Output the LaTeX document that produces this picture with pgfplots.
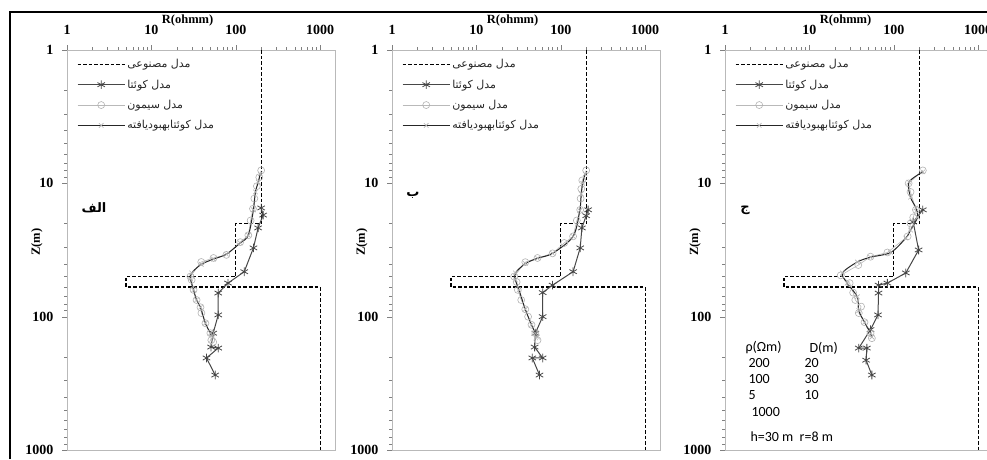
\documentclass[border=0pt]{standalone}
\usepackage{fontspec}
\setmainfont{Liberation Serif}
\newfontfamily\arfont[Script=Arabic]{DejaVu Sans}
\newfontfamily\calfont{Carlito}
\usepackage{pgfplots}
\usepackage{pgfplotstable}
\pgfplotsset{compat=1.18}
\TeXXeTstate=1
\newcommand{\artxt}[1]{\hbox{\arfont\beginR #1\endR}}

\pgfplotstableread{
R z
200 1
200 20
100 20
100 50
5 50
5 60
1000 60
1000 1000
}\tmodel

\pgfplotstableread{
R z
200 15.3
211 17.3
184 21.6
162 30.5
126 46
81 56
62 66.5
62 97
54 133
51 169
62 172
45 204
57 274
}\tkA
\pgfplotstableread{
R z
200 8
190 9
178 10.5
166 13
160 15.5
150 19
141 24.5
113 27.6
77.5 34.4
54.5 36.3
39 38.9
29 50
30 53
31.6 63
34.3 75
38.2 85
39.2 94
43.7 112
50 133
51.3 150
54 155
}\tsA
\pgfplotstableread{
R z
195 8.5
185 9.8
171 11.6
162 15.8
141 24.5
113 28
77.5 34
54.5 37
39 40.5
30 47
29 52
31.6 63
34.3 75
38.2 85
43.7 112
50 133
54 142
}\tiA

\pgfplotstableread{
R z
211 15.8
200 17.5
178 21.6
170 30.5
140 46
80 58
61 66
61 100
50 133
49 169
61 204
46 204
56 274
}\tkB
\pgfplotstableread{
R z
200 8
180 9.5
175 11
172 13
170 15.8
155 19
140 25
110 28
80 33.5
53 36.3
38 39
28 50
30 55
31 63
34 75
38 88
41 100
45 115
50 133
53 150
}\tsB
\pgfplotstableread{
R z
195 8.5
182 10
175 12
168 16
140 25
80 33.5
53 36.5
38 40
29 47
29 53
32 63
38 88
45 115
50 133
53 142
}\tiB

\pgfplotstableread{
R z
221 15.8
170 19.5
197 31.6
139 47
84 56
66 58
66 66.5
65 97
53 125
38.5 172
48 172
47 212
55 274
}\tkC
\pgfplotstableread{
R z
221 8
150 10
158 11.6
183 15.8
170 18
158 20
146 25
84 33
53 35.5
38 41
23.5 49
30 56
33 66
35 75
41 84
38.5 94
45 110
53 133
55 145
}\tsC
\pgfplotstableread{
R z
221 8.2
151 9.8
158 12.7
183 15.3
192 17.9
158 22.4
139 25.7
92 33
53 35.8
37 38.9
24.7 47
28 56
37 71
38.5 90
45 110
53 133
55 142
}\tiC

\pgfplotsset{legend image code/.code={\draw[mark repeat=2,mark phase=2,#1] plot coordinates {(0pt,0pt) (23.5pt,0pt) (47pt,0pt)};}}
\pgfplotsset{
  every axis/.append style={
    scale only axis, width=268pt, height=400pt,
    xmin=1, xmax=1500, ymin=1, ymax=1000,
    xtick={1,10,100,1000},
    xticklabels={\textbf{1},\textbf{10},\textbf{100},\textbf{1000}},
    ytick={1,10,100,1000},
    yticklabels={\textbf{1},\textbf{10},\textbf{100},\textbf{1000}},
    minor xtick={2,3,4,5,6,7,8,9,20,30,40,50,60,70,80,90,200,300,400,500,600,700,800,900},
    minor ytick={2,3,4,5,6,7,8,9,20,30,40,50,60,70,80,90,200,300,400,500,600,700,800,900},
    tick align=outside,
    major tick length=5pt, minor tick length=3pt,
    axis line style={draw=gray!55, line width=0.8pt},
    ticklabel style={font=\fontsize{14}{16}\selectfont},
    xticklabel style={yshift=7pt},
    yticklabel style={xshift=-5pt},
    xlabel style={at={(axis description cs:0.45,1.075)},anchor=center,font=\fontsize{12.5}{14}\selectfont},
    ylabel style={at={(axis description cs:-0.112,0.52)},anchor=center,font=\fontsize{12.5}{14}\selectfont},
    legend cell align=left,
    legend style={at={(axis description cs:0.037,0.982)},anchor=north west,draw=none,fill=none,
      font=\fontsize{11}{13}\selectfont,row sep=6.5pt,inner sep=0pt,text=black!85},
  },
  modelst/.style={black, line width=1.2pt, dash pattern=on 3.5pt off 2pt},
  kst/.style={color=black!72, line width=1pt, mark=asterisk, mark size=4.3pt, mark options={solid,line width=0.8pt}},
  sst/.style={color=gray!55, line width=0.6pt, mark=o, mark size=3.5pt, mark options={solid,draw=gray!60,fill=white,fill opacity=0,line width=0.6pt}},
  ist/.style={color=black!85, line width=1pt, smooth, mark=x, mark size=3.2pt, mark options={solid,draw=gray!60,line width=0.6pt}},
}

\begin{document}
\begin{tikzpicture}[x=1pt,y=1pt]
\useasboundingbox (0,0) rectangle (987,459);

\begin{loglogaxis}[y dir=reverse, xtick pos=right, xticklabel pos=right, ytick pos=left,
  xlabel={\textbf{R(ohmm)}}, ylabel={\textbf{Z(m)}},
  at={(67pt,9pt)}, anchor=south west]
\addplot[modelst] table[x=R,y=z]{\tmodel};
\addlegendentry{\artxt{مدل مصنوعی}}
\addplot[kst] table[x=R,y=z]{\tkA};
\addlegendentry{\artxt{مدل کوئتا}}
\addplot[sst] table[x=R,y=z]{\tsA};
\addlegendentry{\artxt{مدل سیمون}}
\addplot[ist] table[x=R,y=z]{\tiA};
\addlegendentry{\artxt{مدل کوئتابهبودیافته}}
\end{loglogaxis}

\begin{loglogaxis}[y dir=reverse, xtick pos=right, xticklabel pos=right, ytick pos=left,
  xlabel={\textbf{R(ohmm)}}, ylabel={\textbf{Z(m)}},
  at={(392pt,9pt)}, anchor=south west]
\addplot[modelst] table[x=R,y=z]{\tmodel};
\addlegendentry{\artxt{مدل مصنوعی}}
\addplot[kst] table[x=R,y=z]{\tkB};
\addlegendentry{\artxt{مدل کوئتا}}
\addplot[sst] table[x=R,y=z]{\tsB};
\addlegendentry{\artxt{مدل سیمون}}
\addplot[ist] table[x=R,y=z]{\tiB};
\addlegendentry{\artxt{مدل کوئتابهبودیافته}}
\end{loglogaxis}

\begin{loglogaxis}[y dir=reverse, xtick pos=right, xticklabel pos=right, ytick pos=left,
  xlabel={\textbf{R(ohmm)}}, ylabel={\textbf{Z(m)}},
  at={(725pt,9pt)}, anchor=south west]
\addplot[modelst] table[x=R,y=z]{\tmodel};
\addlegendentry{\artxt{مدل مصنوعی}}
\addplot[kst] table[x=R,y=z]{\tkC};
\addlegendentry{\artxt{مدل کوئتا}}
\addplot[sst] table[x=R,y=z]{\tsC};
\addlegendentry{\artxt{مدل سیمون}}
\addplot[ist] table[x=R,y=z]{\tiC};
\addlegendentry{\artxt{مدل کوئتابهبودیافته}}
\end{loglogaxis}

\node[font=\arfont\bfseries\fontsize{13}{15}\selectfont] at (94,251) {\beginR الف\endR};
\node[font=\arfont\bfseries\fontsize{13}{15}\selectfont] at (413,264) {\beginR ب\endR};
\node[font=\arfont\bfseries\fontsize{13}{15}\selectfont] at (745,249) {\beginR ج\endR};

\begin{scope}[font=\calfont\fontsize{14}{16}\selectfont]
\node[anchor=west] at (742,111) {ρ(Ωm)};
\node[anchor=west] at (806,111) {D(m)};
\node[anchor=west] at (745,96) {200};
\node[anchor=west] at (801,96) {20};
\node[anchor=west] at (745,80) {100};
\node[anchor=west] at (801,80) {30};
\node[anchor=west] at (745,64) {5};
\node[anchor=west] at (801,64) {10};
\node[anchor=west] at (748,47) {1000};
\node[anchor=west] at (747,22) {h=30 m\ \ r=8 m};
\end{scope}

\draw[line width=2.4pt] (10,0) -- (10,447) -- (987,447);
\end{tikzpicture}
\end{document}
